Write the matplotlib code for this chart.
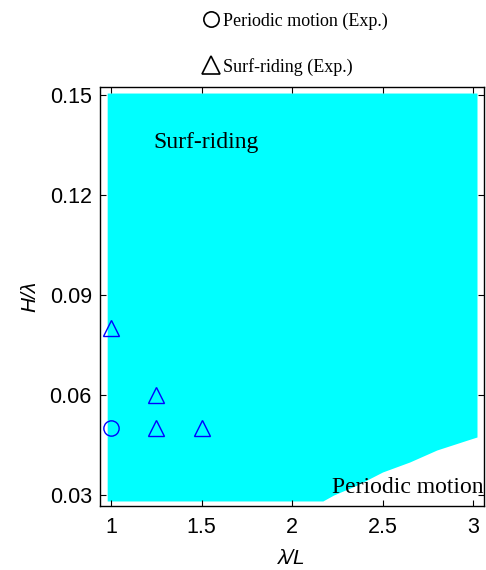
import matplotlib
matplotlib.use('Agg')
import matplotlib.pyplot as plt
from matplotlib.lines import Line2D

# Simulated region boundary: below h_low -> periodic motion
lam_edge = [0.978, 2.17, 2.23, 2.36, 2.50, 2.65, 2.80, 2.97, 3.022]
h_low = [0.0282, 0.0282, 0.0300, 0.0330, 0.0369, 0.0399, 0.0435, 0.0465, 0.0474]
h_top = 0.1506

# Experimental results
surf_lam = [1.0, 1.25, 1.25, 1.5]
surf_h = [0.08, 0.06, 0.05, 0.05]
per_lam = [1.0]
per_h = [0.05]

xticks = [1, 1.5, 2, 2.5, 3]
xtick_labels = ['1', '1.5', '2', '2.5', '3']
yticks = [0.03, 0.06, 0.09, 0.12, 0.15]
ytick_labels = ['0.03', '0.06', '0.09', '0.12', '0.15']

sans = ['Liberation Sans', 'DejaVu Sans']
serif = ['Liberation Serif', 'DejaVu Serif']
plt.rcParams['font.family'] = sans

fig = plt.figure(figsize=(4.86, 5.70), dpi=100)
ax = fig.add_axes([0.206, 0.1123, 0.790, 0.735])

# surf-riding region from simulation
ax.fill_between(lam_edge, h_low, h_top, color='#00FFFF', linewidth=0, zorder=1)

# experiments
ax.plot(surf_lam, surf_h, ls='none', marker='^', ms=12, mfc='none', mec='#0000FF', mew=1.0, zorder=3)
ax.plot(per_lam, per_h, ls='none', marker='o', ms=11, mfc='none', mec='#0000FF', mew=1.0, zorder=3)

ax.text(1.232, 0.1341, 'Surf-riding', family=serif, fontsize=17, va='baseline', ha='left', zorder=4)
ax.text(2.221, 0.0306, 'Periodic motion', family=serif, fontsize=17, va='baseline', ha='left', zorder=4)

ax.set_xlim(0.939, 3.061)
ax.set_ylim(0.0267, 0.1524)
ax.set_xticks(xticks)
ax.set_xticklabels(xtick_labels)
ax.set_yticks(yticks)
ax.set_yticklabels(ytick_labels)
ax.tick_params(direction='in', length=4, width=0.8, top=True, right=True,
               labelsize=15.5, pad=6)
ax.tick_params(axis='x', pad=8)
for s in ax.spines.values():
    s.set_linewidth(1.0)

ax.set_xlabel('λ/L', fontsize=15, style='italic', labelpad=8)
ax.set_ylabel('H/λ', fontsize=15, style='italic', labelpad=7)

handles = [
    Line2D([], [], ls='none', marker='o', ms=11, mfc='none', mec='black', mew=1.2),
    Line2D([], [], ls='none', marker='^', ms=13, mfc='none', mec='black', mew=1.2),
]
fig.legend(handles, ['Periodic motion (Exp.)', 'Surf-riding (Exp.)'],
           loc='upper left', bbox_to_anchor=(0.418, 0.978), frameon=False,
           prop={'family': serif, 'size': 13}, handlelength=0.9, handletextpad=0.22,
           labelspacing=1.55, borderpad=0, borderaxespad=0)

fig.savefig('out.png', dpi=100)
